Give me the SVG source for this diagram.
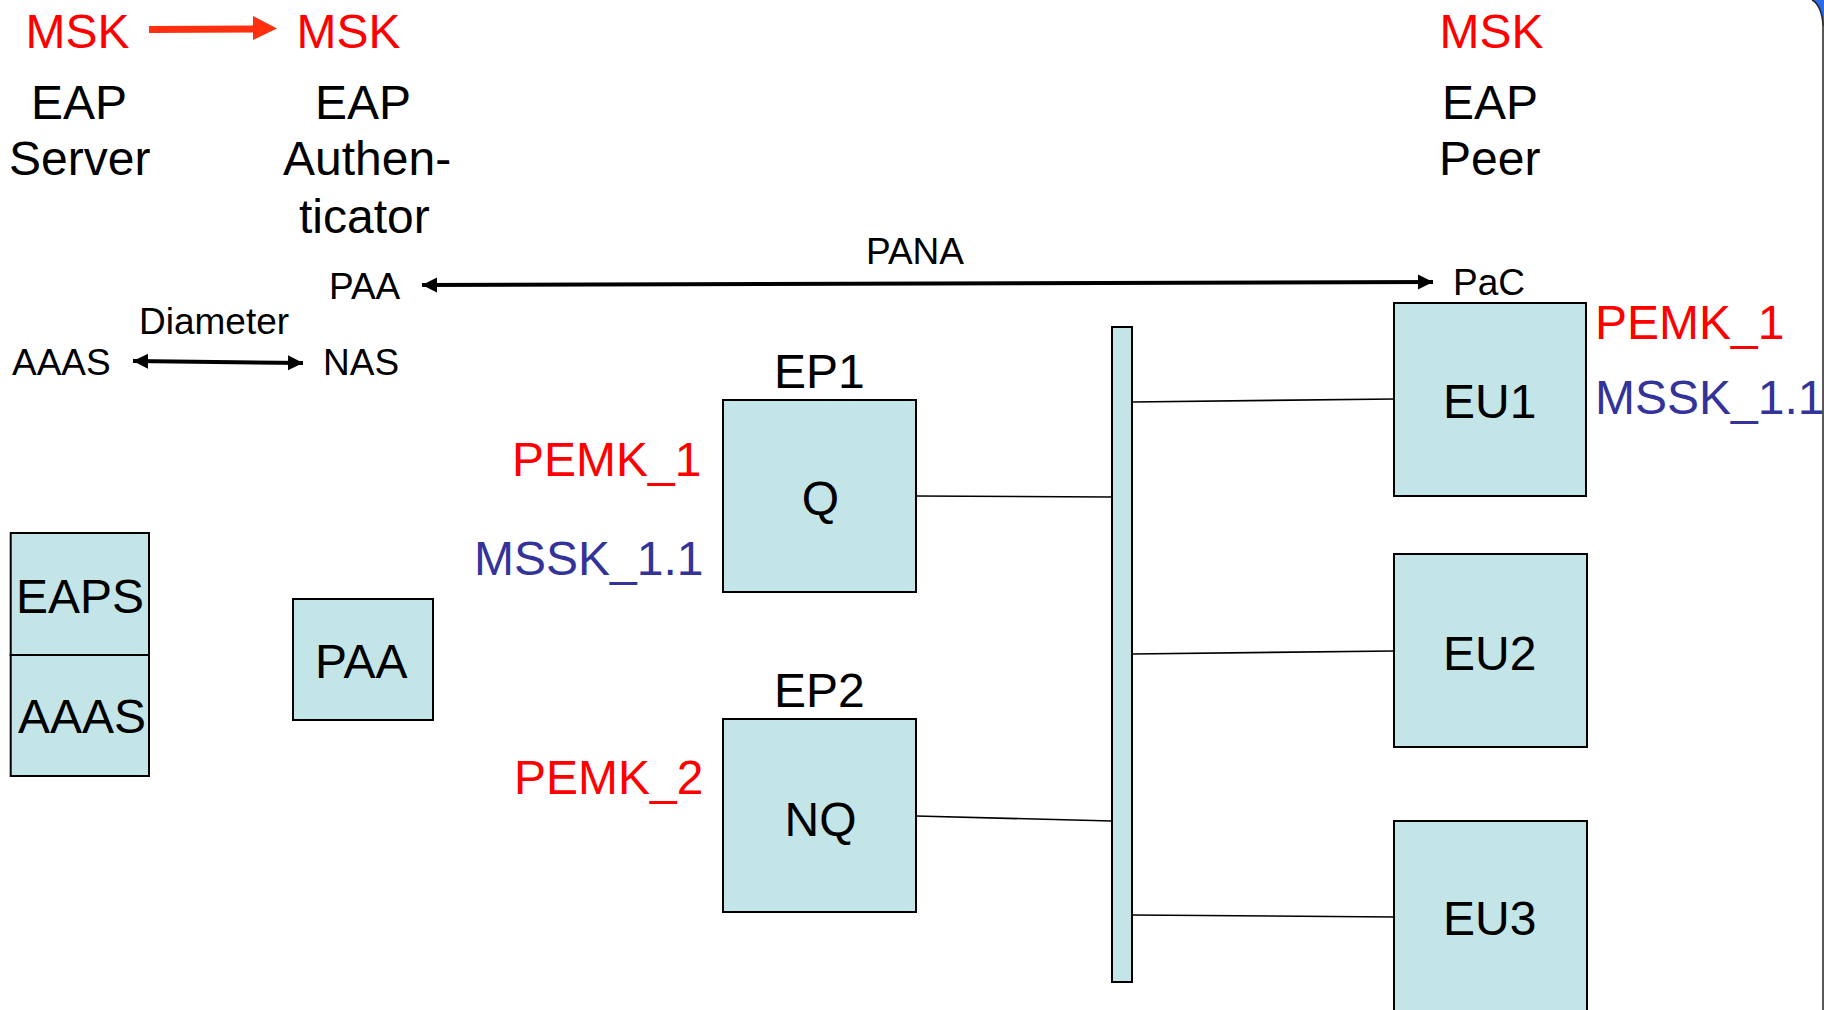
<svg xmlns="http://www.w3.org/2000/svg" width="1824" height="1010" viewBox="0 0 1824 1010">
<style>
text{font-family:"Liberation Sans",Arial,sans-serif;}
.big{font-size:48px;fill:#000;}
.sm{font-size:37px;fill:#000;}
.red{font-size:48px;fill:#FF0000;}
.blue{font-size:48px;fill:#333399;}
.box{fill:#C4E5E7;stroke:#000;stroke-width:2;}
.conn{stroke:#000;stroke-width:1.6;fill:none;}
.arr{stroke:#000;stroke-width:4;fill:none;}
</style>
<defs>
<marker id="ah" markerUnits="userSpaceOnUse" markerWidth="16" markerHeight="16" viewBox="0 0 16 16" refX="15" refY="8" orient="auto-start-reverse">
<path d="M0,0.5 L15,8 L0,15.5 Z" fill="#000"/>
</marker>
</defs>
<rect width="1824" height="1010" fill="#fff"/>
<g id="frame">
<path d="M1812,0 A14 28 0 0 1 1823,26 L1824,26 L1824,0 Z" fill="#2B6BE8"/>
<path d="M1812,0 A14 28 0 0 1 1823,26 L1823,1010" fill="none" stroke="#222" stroke-width="1.5"/>
</g>
<g id="msk-transfer">
<text class="red" x="25.5" y="48">MSK</text>
<line x1="149" y1="29.5" x2="254" y2="29" stroke="#FF3010" stroke-width="7"/>
<polygon points="253,16 277,28.5 253,40" fill="#FF3010"/>
<text class="red" x="296.5" y="48">MSK</text>
<text class="red" x="1439.5" y="48">MSK</text>
</g>
<g id="eap-server-label">
<text class="big" x="31" y="119">EAP</text>
<text class="big" x="9" y="175">Server</text>
</g>
<g id="eap-auth-label">
<text class="big" x="315" y="119">EAP</text>
<text class="big" x="283" y="175">Authen-</text>
<text class="big" x="299" y="233">ticator</text>
</g>
<g id="eap-peer-label">
<text class="big" x="1442" y="119">EAP</text>
<text class="big" x="1439" y="175">Peer</text>
</g>
<g id="proto-labels">
<text class="sm" x="329" y="299">PAA</text>
<text class="sm" x="139" y="334">Diameter</text>
<text class="sm" x="12" y="375">AAAS</text>
<text class="sm" x="323" y="375">NAS</text>
<text class="sm" x="866" y="264">PANA</text>
<text class="sm" x="1453" y="295">PaC</text>
</g>
<g id="eaps-aaas">
<rect class="box" x="10.7" y="533" width="138.3" height="122"/>
<rect class="box" x="10.7" y="655" width="138.3" height="121"/>
<text class="big" x="16" y="613">EAPS</text>
<text class="big" x="18" y="733">AAAS</text>
</g>
<g id="paa">
<rect class="box" x="293" y="599" width="140" height="121"/>
<text class="big" x="315" y="678">PAA</text>
</g>
<g id="ep1">
<text class="big" x="774" y="388">EP1</text>
<rect class="box" x="723" y="400" width="193" height="192"/>
<text class="big" x="820.5" y="515" text-anchor="middle">Q</text>
<text class="red" x="512" y="476">PEMK_1</text>
<text class="blue" x="474" y="575">MSSK_1.1</text>
</g>
<g id="ep2">
<text class="big" x="774" y="707">EP2</text>
<rect class="box" x="723" y="719" width="193" height="193"/>
<text class="big" x="820.5" y="836" text-anchor="middle">NQ</text>
<text class="red" x="514" y="794">PEMK_2</text>
</g>
<g id="bus">
<rect class="box" x="1112" y="327" width="20" height="655"/>
</g>
<g id="eu1">
<rect class="box" x="1394" y="303" width="192" height="193"/>
<text class="big" x="1443" y="418">EU1</text>
<text class="red" x="1595" y="339">PEMK_1</text>
<text class="blue" x="1595" y="414">MSSK_1.1</text>
</g>
<g id="eu2">
<rect class="box" x="1394" y="554" width="193" height="193"/>
<text class="big" x="1443" y="670">EU2</text>
</g>
<g id="eu3">
<rect class="box" x="1394" y="821" width="193" height="200"/>
<text class="big" x="1443" y="935">EU3</text>
</g>
<g id="connectors">
<line class="arr" x1="133" y1="361" x2="303" y2="363" marker-start="url(#ah)" marker-end="url(#ah)"/>
<line class="arr" x1="422" y1="285" x2="1433" y2="282" marker-start="url(#ah)" marker-end="url(#ah)"/>
<line class="conn" x1="916" y1="496" x2="1112" y2="497"/>
<line class="conn" x1="916" y1="816" x2="1112" y2="821"/>
<line class="conn" x1="1132" y1="402" x2="1394" y2="399"/>
<line class="conn" x1="1132" y1="654" x2="1394" y2="651"/>
<line class="conn" x1="1132" y1="915" x2="1394" y2="917"/>
</g>
</svg>
